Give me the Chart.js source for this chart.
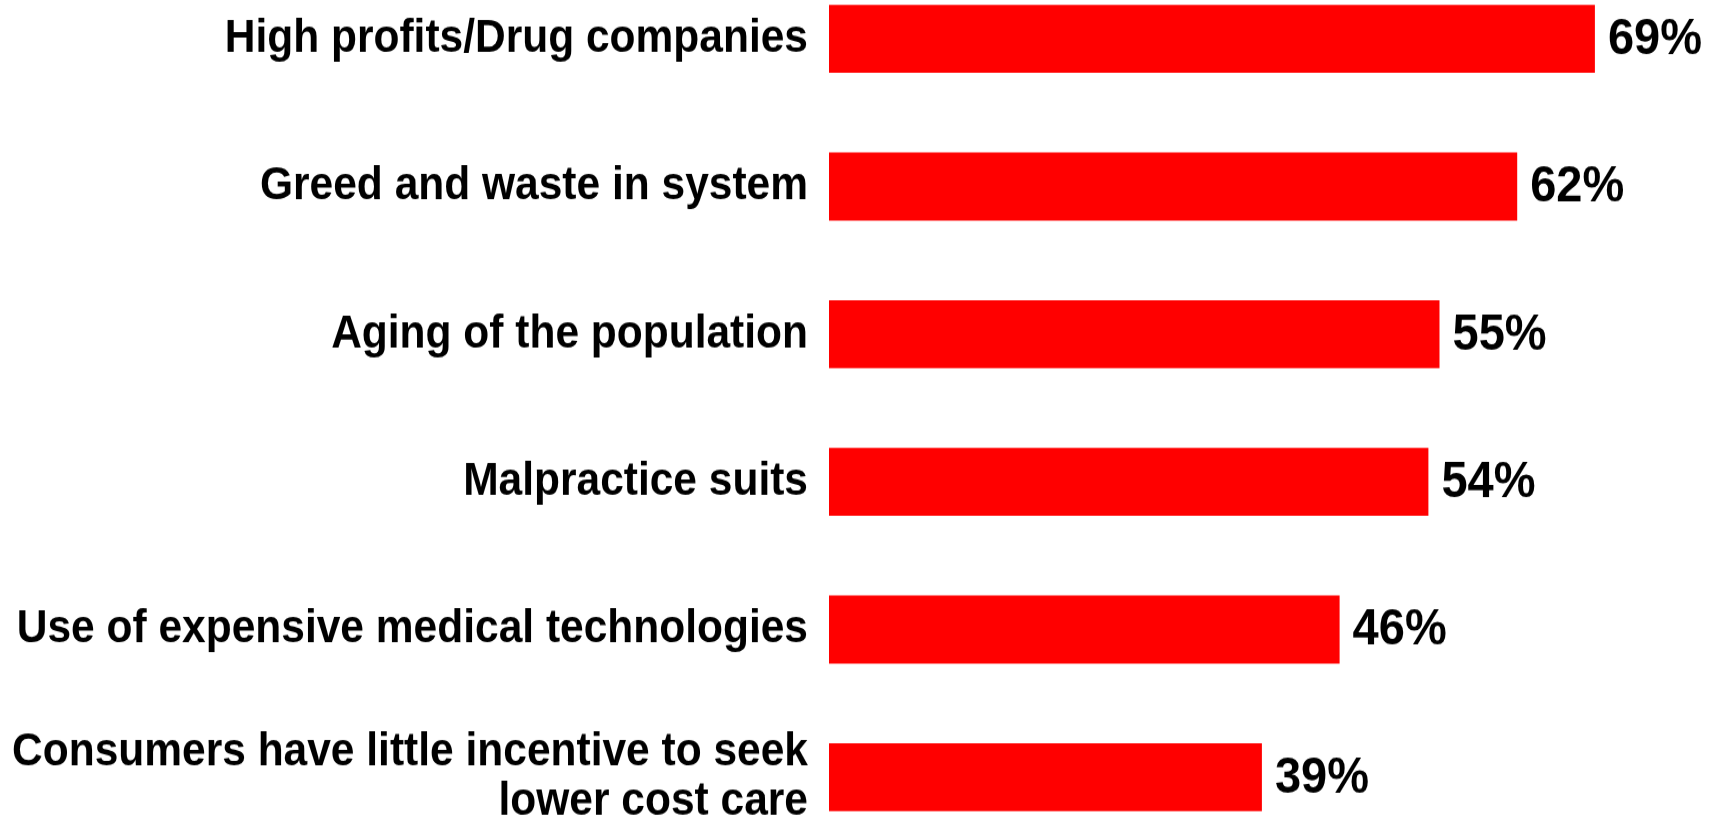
<!DOCTYPE html>
<html>
<head>
<meta charset="utf-8">
<title>Causes of rising health care costs</title>
<script src="https://cdn.jsdelivr.net/npm/chart.js@4.4.1/dist/chart.umd.min.js"></script>
<style>
    html, body { margin: 0; padding: 0; background: #fff; overflow: hidden; }
    body { width: 1719px; height: 823px; position: relative; }
    #wrap { position: absolute; left: 0; top: -35px; width: 1719px; height: 886px; }
</style>
</head>
<body>
<div id="wrap">
    <!-- drawn at 806px tall, shown 886px tall: text comes out a little taller than wide -->
    <canvas id="chart" width="1719" height="806" style="width: 1719px; height: 886px;"></canvas>
</div>
<script>
const categories = [
    "High profits/Drug companies",
    "Greed and waste in system",
    "Aging of the population",
    "Malpractice suits",
    "Use of expensive medical technologies",
    ["Consumers have little incentive to seek", "lower cost care"],
];
const percents = [69, 62, 55, 54, 46, 39];

const FONT = "'Liberation Sans', Arial, sans-serif";

// writes "NN%" just past the end of each bar
const valueLabels = {
    id: "valueLabels",
    afterDatasetsDraw(chart) {
        const ctx = chart.ctx;
        const meta = chart.getDatasetMeta(0);
        ctx.save();
        ctx.font = "bold 47px " + FONT;
        ctx.fillStyle = "#000";
        ctx.textAlign = "left";
        ctx.textBaseline = "middle";
        meta.data.forEach((bar, i) => {
            ctx.fillText(percents[i] + "%", bar.x + 13, bar.y + 1);
        });
        ctx.restore();
    },
};

new Chart(document.getElementById("chart"), {
    type: "bar",
    data: {
        labels: categories,
        datasets: [
            {
                data: percents,
                backgroundColor: "#ff0000",
                borderWidth: 0,
                categoryPercentage: 1,
                barPercentage: 0.46,
            },
        ],
    },
    options: {
        indexAxis: "y",
        responsive: false,
        animation: false,
        devicePixelRatio: 1,
        layout: { padding: { top: 0, bottom: 0, left: 0, right: 2 } },
        plugins: {
            legend: { display: false },
            tooltip: { enabled: false },
        },
        scales: {
            x: {
                display: false,
                min: 0,
                max: 80,
            },
            y: {
                grid: { display: false, drawTicks: false },
                border: { display: false },
                ticks: {
                    color: "#000",
                    padding: 21,
                    font: { family: FONT, size: 42.5, weight: "bold", lineHeight: 1.04 },
                },
                afterFit(scale) {
                    // fixed axis width so the bars start at x = 829; no extra room above/below
                    scale.width = 829;
                    scale.paddingTop = 0;
                    scale.paddingBottom = 0;
                },
            },
        },
    },
    plugins: [valueLabels],
});
</script>
</body>
</html>
